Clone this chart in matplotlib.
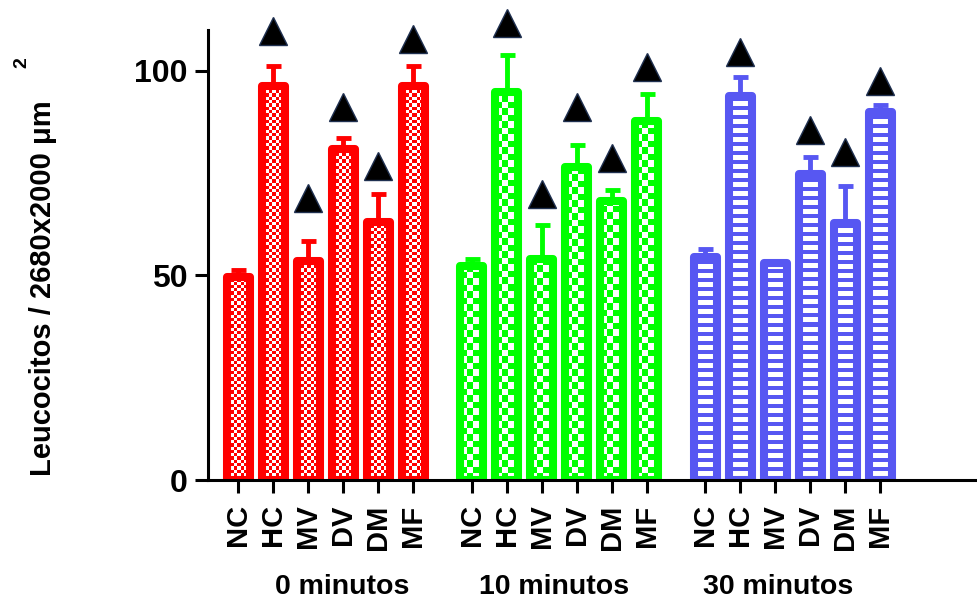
#!/usr/bin/python

"""
Leucocitos por campo (2680x2000 um^2) a 0, 10 y 30 minutos
"""

import numpy as np
import matplotlib
matplotlib.use("Agg")
import matplotlib.pyplot as plt
from matplotlib.colors import ListedColormap
from matplotlib.transforms import blended_transform_factory

plt.rcParams['font.family'] = ['Liberation Sans', 'DejaVu Sans']
plt.rcParams['font.weight'] = 'bold'

groups = ['NC', 'HC', 'MV', 'DV', 'DM', 'MF']
group_labels = ['0 minutos', '10 minutos', '30 minutos']

# media, error (solo hacia arriba) y altura del triangulo de significancia
mean_0 = [49.6, 96.3, 53.5, 80.9, 63.1, 96.3]
err_0 = [1.7, 5.0, 4.9, 2.8, 6.9, 5.0]
sig_0 = [np.nan, 109.8, 69.0, 91.2, 76.8, 107.8]

mean_10 = [52.3, 94.9, 54.0, 76.5, 68.2, 87.8]
err_10 = [1.7, 9.1, 8.3, 5.3, 2.6, 6.5]
sig_10 = [np.nan, 111.7, 70.0, 91.1, 78.6, 101.0]

mean_30 = [54.5, 93.9, 53.0, 74.8, 62.8, 90.0]
err_30 = [2.0, 4.5, 0.5, 4.1, 9.1, 1.6]
sig_30 = [np.nan, 104.5, np.nan, 85.6, 80.1, 97.6]

colors = ['#ff0000', '#00ff00', '#5757f2']


def pattern(kind, ny, nx):
    """
    Relleno de la barra en pixeles: 1 = color, 0 = blanco
    """
    j, i = np.mgrid[0:ny, 0:nx]
    if kind == 'fine':
        return ((np.floor(i / 3.3) + np.floor(j / 3.3)) % 2)
    if kind == 'coarse':
        return ((np.floor(i / 6.5) + np.floor(j / 6.5)) % 2)
    return ((j % 9) < 3.5).astype(float)


def draw_group(ax, x, means, errs, sig, color, kind, width, pxx, pxy):
    for xi, v in zip(x, means):
        x0 = xi - width / 2
        nx = max(int(round(width * pxx)), 1)
        ny = max(int(round(v * pxy)), 1)
        ax.imshow(pattern(kind, ny, nx), cmap=ListedColormap(['white', color]),
                  vmin=0, vmax=1, origin='lower', aspect='auto',
                  interpolation='nearest', extent=(x0, x0 + width, 0, v),
                  zorder=1)
    ax.bar(x, means, width=width, facecolor='none', edgecolor=color,
           linewidth=5.8, joinstyle='round', zorder=2)
    ax.errorbar(x, means, yerr=[np.zeros(len(errs)), errs], fmt='none',
                ecolor=color, elinewidth=3.5, capsize=5.4, capthick=3.5,
                zorder=3)
    ax.plot(x, sig, linestyle='none', marker='^', ms=20, mfc='black',
            mec='#1f3050', mew=1, zorder=4, clip_on=False)


fig = plt.figure(figsize=(9.77, 6.07), dpi=100)
ax = fig.add_axes([0.2129, 0.2092, 0.998 - 0.2129, 0.9506 - 0.2092])
xlim = (-0.86, 21.05)
ylim = (0, 110)
bbox = ax.get_window_extent()
pxx = bbox.width / (xlim[1] - xlim[0])
pxy = bbox.height / (ylim[1] - ylim[0])

step = 6.67
width = 23.0 / pxx
data = [(mean_0, err_0, sig_0), (mean_10, err_10, sig_10), (mean_30, err_30, sig_30)]
kinds = ['fine', 'coarse', 'rungs']

ticks, ticklabels, centers = [], [], []
for k, (m, e, s) in enumerate(data):
    x = k * step + np.arange(len(groups))
    draw_group(ax, x, m, e, s, colors[k], kinds[k], width, pxx, pxy)
    ticks += list(x)
    ticklabels += groups
    centers.append(x.mean())

ax.set_xlim(*xlim)
ax.set_ylim(*ylim)
ax.set_xticks(ticks)
ax.set_xticklabels(ticklabels, rotation=90, fontsize=21, fontweight='bold')
ax.set_yticks([0, 50, 100])
ax.set_yticklabels(['0', '50', '100'], fontsize=23, fontweight='bold')
ax.tick_params(axis='x', length=9.5, width=2.2, pad=8)
ax.tick_params(axis='y', length=9.5, width=2.2, pad=5.5)
for side in ['top', 'right']:
    ax.spines[side].set_visible(False)
for side in ['left', 'bottom']:
    ax.spines[side].set_linewidth(2.2)

trans = blended_transform_factory(ax.transData, fig.transFigure)
offsets = [0.47, -0.15, -0.42]
for c, off, lab in zip(centers, offsets, group_labels):
    ax.text(c + off, 1 - 587 / 607, lab, transform=trans, ha='center',
            va='center', fontsize=20.5, fontweight='bold')

fig.text(43 / 977, 1 - 288 / 607, 'Leucocitos / 2680x2000 μm', rotation=90,
         ha='center', va='center', fontsize=21, fontweight='bold')
fig.text(22 / 977, 1 - 63 / 607, '2', rotation=90, ha='center', va='center',
         fontsize=14, fontweight='bold')

fig.savefig("out.png", dpi=100)
plt.close()
